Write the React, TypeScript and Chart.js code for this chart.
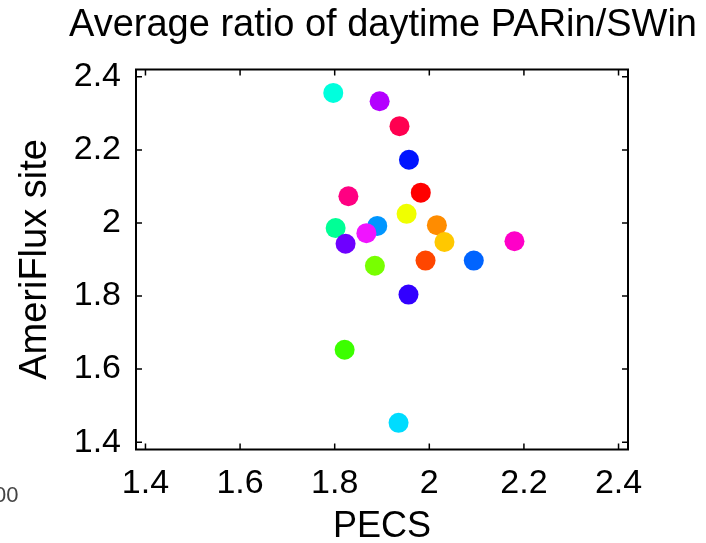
import React, { useEffect, useRef } from "react";
import { Chart, registerables } from "chart.js";

Chart.register(...registerables);

const TITLE = "Average ratio of daytime PARin/SWin";
const X_LABEL = "PECS";
const Y_LABEL = "AmeriFlux site";

const PECS = [1.797, 1.895, 1.937, 1.957, 1.829, 1.982, 1.952, 1.802, 1.890, 1.867, 2.016, 1.823, 2.032, 2.180, 1.885, 1.992, 2.094, 1.956, 1.821, 1.935];
const SITE = [2.356, 2.333, 2.265, 2.173, 2.073, 2.083, 2.025, 1.986, 1.992, 1.972, 1.994, 1.943, 1.948, 1.950, 1.883, 1.897, 1.897, 1.804, 1.653, 1.453];
const COLORS = ["#00ffdd", "#b400ff", "#ff0050", "#0014ff", "#ff0082", "#ff0000", "#f0ff00", "#00ff96", "#0096ff", "#f014ff", "#ff8c00", "#6e00ff", "#ffc800", "#ff00c8", "#78ff00", "#ff4600", "#0064ff", "#3200ff", "#3cff00", "#00dcff"];

const X_TICKS = [1.4, 1.6, 1.8, 2.0, 2.2, 2.4];
const Y_TICKS = [1.4, 1.6, 1.8, 2.0, 2.2, 2.4];
const AXIS_MIN = 1.38;
const AXIS_MAX = 2.42;

const FONT = "'Liberation Sans', Arial, Helvetica, sans-serif";

const fmt = (v: number) => String(Number(Number(v).toFixed(2)));

const framePlugin = {
  id: "frameTicks",
  afterDatasetsDraw(chart: any) {
    const { ctx, chartArea, scales } = chart;
    const { left, right, top, bottom } = chartArea;
    ctx.save();
    ctx.strokeStyle = "#000";
    ctx.lineWidth = 1.5;
    const len = 6;
    ctx.beginPath();
    for (const v of X_TICKS) {
      const x = scales.x.getPixelForValue(v);
      ctx.moveTo(x, bottom);
      ctx.lineTo(x, bottom - len);
      ctx.moveTo(x, top);
      ctx.lineTo(x, top + len);
    }
    for (const v of Y_TICKS) {
      const y = scales.y.getPixelForValue(v);
      ctx.moveTo(left, y);
      ctx.lineTo(left + len, y);
      ctx.moveTo(right, y);
      ctx.lineTo(right - len, y);
    }
    ctx.stroke();
    ctx.lineWidth = 2;
    ctx.strokeRect(left, top, right - left, bottom - top);
    ctx.restore();
  },
};

export default function App() {
  const ref = useRef<HTMLCanvasElement | null>(null);

  useEffect(() => {
    if (!ref.current) return;
    const chart = new Chart(ref.current, {
      type: "scatter",
      data: {
        datasets: [
          {
            data: PECS.map((x, i) => ({ x, y: SITE[i] })),
            pointBackgroundColor: COLORS,
            pointBorderWidth: 0,
            pointRadius: 10,
            pointHoverRadius: 10,
          },
        ],
      },
      options: {
        animation: false,
        responsive: false,
        events: [],
        layout: { padding: { top: 0, left: 0, right: 9, bottom: 0 } },
        plugins: {
          legend: { display: false },
          tooltip: { enabled: false },
          title: {
            display: true,
            text: TITLE,
            fullSize: true,
            align: "end",
            color: "#000",
            font: { family: FONT, size: 38, weight: "normal", lineHeight: 1.2 },
            padding: { top: 3, bottom: 20.9 },
          },
        },
        scales: {
          x: {
            type: "linear",
            min: AXIS_MIN,
            max: AXIS_MAX,
            afterBuildTicks: (s: any) => {
              s.ticks = X_TICKS.map((value) => ({ value }));
            },
            afterFit: (s: any) => {
              s.height = 93.5;
            },
            grid: { display: false, drawTicks: false },
            border: { display: false },
            ticks: {
              callback: (v: any) => fmt(v),
              color: "#000",
              font: { family: FONT, size: 34 },
              padding: 14,
              maxRotation: 0,
              autoSkip: false,
            },
            title: {
              display: true,
              text: X_LABEL,
              color: "#000",
              font: { family: FONT, size: 36, lineHeight: 0.9 },
              padding: { top: 0, bottom: 0 },
            },
          },
          y: {
            type: "linear",
            min: AXIS_MIN,
            max: AXIS_MAX,
            afterBuildTicks: (s: any) => {
              s.ticks = Y_TICKS.map((value) => ({ value }));
            },
            afterFit: (s: any) => {
              s.width = 136;
            },
            grid: { display: false, drawTicks: false },
            border: { display: false },
            ticks: {
              callback: (v: any) => fmt(v),
              color: "#000",
              font: { family: FONT, size: 34 },
              padding: 15,
              autoSkip: false,
            },
            title: {
              display: true,
              text: Y_LABEL,
              color: "#000",
              font: { family: FONT, size: 38, lineHeight: 1.2 },
              padding: { top: 13, bottom: 0 },
            },
          },
          spacer: {
            type: "linear",
            position: "right",
            display: true,
            afterFit: (s: any) => {
              s.width = 69;
            },
            grid: { display: false, drawTicks: false },
            border: { display: false },
            ticks: { display: false },
            title: { display: false },
          },
        },
      },
      plugins: [framePlugin],
    });
    return () => chart.destroy();
  }, []);

  return (
    <div style={{ position: "absolute", left: 0, top: 0, width: 706, height: 543, background: "#fff" }}>
      <canvas ref={ref} width={706} height={543} style={{ display: "block" }} />
      <span
        style={{
          position: "absolute",
          left: -6,
          top: 483,
          fontFamily: FONT,
          fontSize: 22,
          color: "#444",
          lineHeight: "24px",
        }}
      >
        00
      </span>
    </div>
  );
}
